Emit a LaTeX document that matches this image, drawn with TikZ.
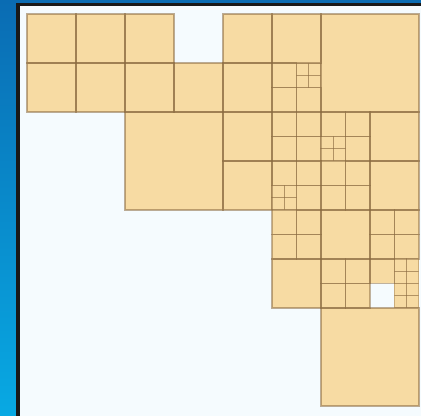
\documentclass[tikz,border=0pt]{standalone}
\definecolor{frametop}{HTML}{0A6CB3}
\definecolor{framebot}{HTML}{08A9E3}
\definecolor{paper}{HTML}{F5FBFE}
\definecolor{tan}{HTML}{F7DBA3}
\definecolor{gridline}{HTML}{8A6A40}
\tikzset{
  cellfill/.style={fill=tan, draw=none},
  bigline/.style={draw=gridline, draw opacity=0.55, line width=5pt},
  unitline/.style={draw=gridline, draw opacity=0.55, line width=4.8pt},
  quartline/.style={draw=gridline, draw opacity=0.5, line width=3.8pt},
  eighthline/.style={draw=gridline, draw opacity=0.4, line width=2.8pt},
}
\def\bigcells{6/0, 2/2, 6/6}
\def\unitcells{0/0,1/0,2/0,0/1,1/1,2/1,3/1,4/0,5/0,4/1,4/2,4/3,7/2,7/3,6/4,5/5}
\def\quartcells{5/1,5/1.5,5.5/1.5,5/2,5.5/2,5/2.5,5.5/2.5,6/2,6.5/2,6.5/2.5,5/3,5.5/3,5.5/3.5,6/3,6.5/3,6/3.5,6.5/3.5,5/4,5.5/4,5/4.5,5.5/4.5,7/4,7.5/4,7/4.5,7.5/4.5,6/5,6.5/5,6/5.5,6.5/5.5,7/5}
\def\eighthcells{5.5/1,5.75/1,5.5/1.25,5.75/1.25,6/2.5,6.25/2.5,6/2.75,6.25/2.75,5/3.5,5.25/3.5,5/3.75,5.25/3.75,7.5/5,7.75/5,7.5/5.25,7.75/5.25,7.5/5.5,7.75/5.5,7.5/5.75,7.75/5.75}
\begin{document}
\begin{tikzpicture}[x=0.1cm,y=-0.1cm]
\useasboundingbox (0,0) rectangle (421,416);
% blue frame
\shade[top color=frametop, bottom color=framebot] (0,0) rectangle (421,416);
\fill[black!90] (16,3) rectangle (421,416);
\fill[paper] (19.5,6.3) rectangle (421,416);
% quadtree cells
\begin{scope}[xshift=2.7cm, yshift=-1.4cm, x=4.9cm, y=-4.9cm]
  % fills
  \foreach \a/\b in \bigcells {\fill[cellfill] (\a,\b) rectangle ++(2,2);}
  \foreach \a/\b in \unitcells {\fill[cellfill] (\a,\b) rectangle ++(1,1);}
  \foreach \a/\b in \quartcells {\fill[cellfill] (\a,\b) rectangle ++(0.5,0.5);}
  \foreach \a/\b in \eighthcells {\fill[cellfill] (\a,\b) rectangle ++(0.25,0.25);}
  % outlines, finest first so coarse lines lie on top
  \foreach \a/\b in \eighthcells {\draw[eighthline] (\a,\b) rectangle ++(0.25,0.25);}
  \foreach \a/\b in \quartcells {\draw[quartline] (\a,\b) rectangle ++(0.5,0.5);}
  \foreach \a/\b in \unitcells {\draw[unitline] (\a,\b) rectangle ++(1,1);}
  \foreach \a/\b in \bigcells {\draw[bigline] (\a,\b) rectangle ++(2,2);}
\end{scope}
\end{tikzpicture}
\end{document}
